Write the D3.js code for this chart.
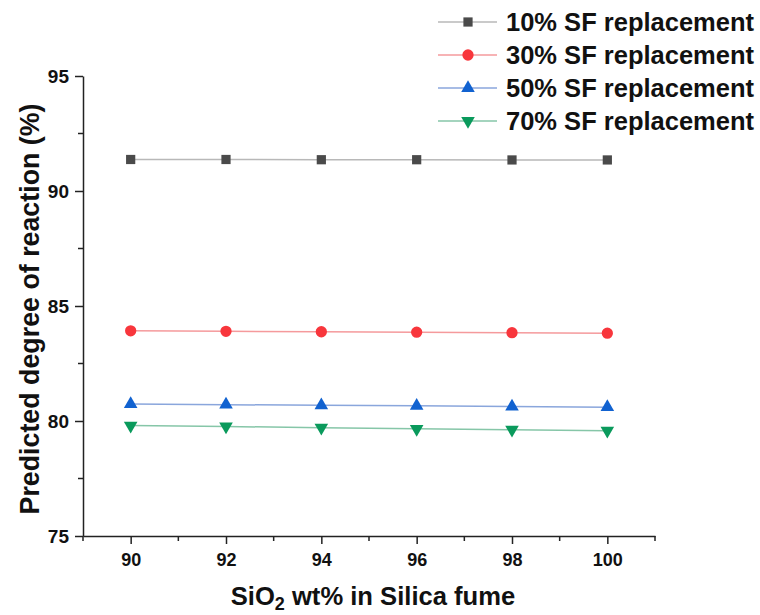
<!DOCTYPE html>
<html lang="en">
<head>
    <title>Predicted degree of reaction</title>
    <script src="https://d3js.org/d3.v7.min.js" charset="utf-8"></script>
    <style>
        body { margin: 0; background: #fff; }
        text { font-family: "Liberation Sans", Arial, sans-serif; }
    </style>
</head>
<body>
<script>
    // data
    var silica = [90, 92, 94, 96, 98, 100]
    var sf10 = [91.37, 91.37, 91.36, 91.36, 91.35, 91.35]
    var sf30 = [83.92, 83.90, 83.88, 83.86, 83.84, 83.82]
    var sf50 = [80.74, 80.71, 80.68, 80.66, 80.63, 80.60]
    var sf70 = [79.80, 79.76, 79.71, 79.66, 79.62, 79.58]
    var seriesNames = ["10% SF replacement", "30% SF replacement", "50% SF replacement", "70% SF replacement"]
    var xTicks = [90, 92, 94, 96, 98, 100]
    var yTicks = [75, 80, 85, 90, 95]

    var series = [
        {name: seriesNames[0], values: sf10, color: "#4a4a4a", line: "#b8b8b8", symbol: d3.symbolSquare, size: 85, rot: 0},
        {name: seriesNames[1], values: sf30, color: "#f8363c", line: "#f59a9c", symbol: d3.symbolCircle, size: 100, rot: 0},
        {name: seriesNames[2], values: sf50, color: "#1162d0", line: "#8aa6dc", symbol: d3.symbolTriangle, size: 80, rot: 0},
        {name: seriesNames[3], values: sf70, color: "#0a9a5c", line: "#86c6a8", symbol: d3.symbolTriangle, size: 80, rot: 180}
    ]

    var width = 760
    var height = 615

    var svg = d3.select("body")
                .append("svg")
                .attr("width", width)
                .attr("height", height)

    var x = d3.scaleLinear()
        .domain([89, 101])
        .range([83, 655])

    var y = d3.scaleLinear()
        .domain([75, 95])
        .range([536, 76])

    // x axis: major ticks with labels, minor ticks on odd values
    var gx = svg.append("g")
        .attr("transform", "translate(0," + y(75) + ")")
    gx.call(d3.axisBottom(x).tickValues(xTicks).tickSize(8).tickSizeOuter(0).tickPadding(9))
    gx.append("g").selectAll("line")
        .data(d3.range(89, 102, 2))
        .enter().append("line")
        .attr("x1", function(d) { return x(d); })
        .attr("x2", function(d) { return x(d); })
        .attr("y1", 0).attr("y2", 5)
        .attr("stroke", "#222").attr("stroke-width", 1.5)
    gx.selectAll(".domain").attr("stroke", "#222").attr("stroke-width", 1.5)
    gx.selectAll(".tick line").attr("stroke", "#222").attr("stroke-width", 1.5)
    gx.selectAll(".tick text")
        .attr("font-size", 18).attr("font-weight", "bold").attr("fill", "#111")
        .attr("font-family", "Liberation Sans, Arial, sans-serif")

    // y axis
    var gy = svg.append("g")
        .attr("transform", "translate(" + x(89) + ",0)")
    gy.call(d3.axisLeft(y).tickValues(yTicks).tickSize(8).tickSizeOuter(0).tickPadding(6))
    gy.append("g").selectAll("line")
        .data([77.5, 82.5, 87.5, 92.5])
        .enter().append("line")
        .attr("y1", function(d) { return y(d); })
        .attr("y2", function(d) { return y(d); })
        .attr("x1", 0).attr("x2", -5)
        .attr("stroke", "#222").attr("stroke-width", 1.5)
    gy.selectAll(".domain").attr("stroke", "#222").attr("stroke-width", 1.5)
    gy.selectAll(".tick line").attr("stroke", "#222").attr("stroke-width", 1.5)
    gy.selectAll(".tick text")
        .attr("font-size", 19).attr("font-weight", "bold").attr("fill", "#111")
        .attr("font-family", "Liberation Sans, Arial, sans-serif")

    // axis titles
    svg.append("text")
        .attr("transform", "translate(39,309) rotate(-90)")
        .attr("text-anchor", "middle")
        .attr("font-size", 26.8)
        .attr("font-weight", "bold")
        .attr("fill", "#111")
        .text("Predicted degree of reaction (%)")

    var xt = svg.append("text")
        .attr("x", 373)
        .attr("y", 605)
        .attr("text-anchor", "middle")
        .attr("font-size", 25.6)
        .attr("font-weight", "bold")
        .attr("fill", "#111")
    xt.append("tspan").text("SiO")
    xt.append("tspan").attr("font-size", 18).attr("dy", 5).text("2")
    xt.append("tspan").attr("dy", -5).text(" wt% in Silica fume")

    // lines and markers
    var line = d3.line()
        .x(function(d, i) { return x(silica[i]); })
        .y(function(d) { return y(d); })

    series.forEach(function(s) {
        svg.append("path")
            .attr("d", line(s.values))
            .attr("fill", "none")
            .attr("stroke", s.line)
            .attr("stroke-width", 1.5)

        svg.append("g").selectAll("path")
            .data(s.values)
            .enter().append("path")
            .attr("transform", function(d, i) {
                return "translate(" + x(silica[i]) + "," + y(d) + ") rotate(" + s.rot + ")"
            })
            .attr("d", d3.symbol().type(s.symbol).size(s.size))
            .attr("fill", s.color)
    })

    // legend
    var legend = svg.append("g")
    var rows = legend.selectAll("g")
        .data(series)
        .enter().append("g")
        .attr("transform", function(d, i) { return "translate(0," + (22 + i * 33) + ")"; })

    rows.append("line")
        .attr("x1", 438).attr("x2", 497)
        .attr("y1", 0).attr("y2", 0)
        .attr("stroke", function(d) { return d.line; })
        .attr("stroke-width", 1.5)
    rows.append("path")
        .attr("transform", function(d) { return "translate(468,0) rotate(" + d.rot + ")"; })
        .attr("d", function(d) { return d3.symbol().type(d.symbol).size(d.size)(); })
        .attr("fill", function(d) { return d.color; })
    rows.append("text")
        .attr("x", 506)
        .attr("y", 9)
        .attr("font-size", 25.5)
        .attr("font-weight", "bold")
        .attr("fill", "#111")
        .text(function(d) { return d.name; })
</script>
</body>
</html>
